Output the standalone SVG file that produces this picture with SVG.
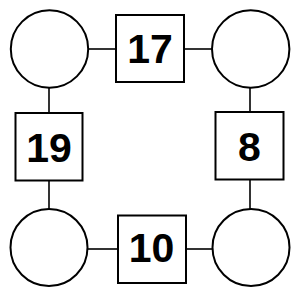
<svg xmlns="http://www.w3.org/2000/svg" width="300" height="300" viewBox="0 0 300 300">
<style>
.c{fill:#fff;stroke:#000;stroke-width:2}
.s{fill:#fff;stroke:#000;stroke-width:2}
.l{stroke:#000;stroke-width:1.6;fill:none}
.t{font-family:"Liberation Sans",Arial,sans-serif;font-weight:bold;font-size:41px;text-anchor:middle;fill:#000}
</style>
<rect width="300" height="300" fill="#fff"/>
<g id="connectors">
<line class="l" x1="88" y1="49" x2="116" y2="49"/>
<line class="l" x1="184" y1="49" x2="212" y2="49"/>
<line class="l" x1="49" y1="88" x2="49" y2="113"/>
<line class="l" x1="250" y1="88" x2="250" y2="112"/>
<line class="l" x1="49" y1="180" x2="49" y2="209"/>
<line class="l" x1="250" y1="180" x2="250" y2="209"/>
<line class="l" x1="88" y1="249" x2="118" y2="249"/>
<line class="l" x1="186" y1="249" x2="213" y2="249"/>
</g>
<g id="c1"><circle class="c" cx="49.5" cy="49" r="38.7"/></g>
<g id="c2"><circle class="c" cx="250.7" cy="49" r="38.7"/></g>
<g id="c3"><circle class="c" cx="49" cy="247.5" r="38.5"/></g>
<g id="c4"><circle class="c" cx="251" cy="247.5" r="38.5"/></g>
<g id="n17"><rect class="s" x="116" y="15" width="68" height="67"/><text class="t" x="150" y="63.3">17</text></g>
<g id="n19"><rect class="s" x="15.5" y="113" width="67" height="67.5"/><text class="t" x="49" y="161.5">19</text></g>
<g id="n8"><rect class="s" x="215.5" y="112" width="68" height="67.5"/><text class="t" x="249.5" y="160.7">8</text></g>
<g id="n10"><rect class="s" x="118" y="215.5" width="68" height="67.5"/><text class="t" x="151.5" y="262">10</text></g>
</svg>
